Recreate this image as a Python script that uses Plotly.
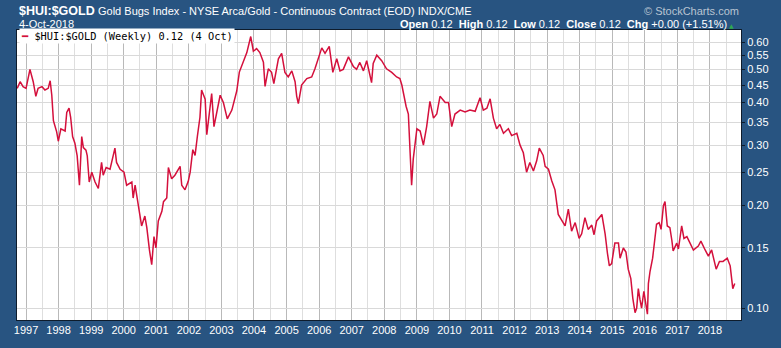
import plotly.graph_objects as go
import pandas as pd
import numpy as np

# Decimal-year time stamps (weekly closes sampled) and $HUI:$GOLD ratio values
years = [1996.73, 1996.82, 1996.91, 1997.00, 1997.12, 1997.22, 1997.30, 1997.37, 1997.49, 1997.58,
         1997.68, 1997.74, 1997.79, 1997.84, 1997.94, 1997.99, 1998.07, 1998.20, 1998.25, 1998.32,
         1998.37, 1998.43, 1998.50, 1998.57, 1998.64, 1998.71, 1998.76, 1998.84, 1998.88, 1998.94,
         1999.02, 1999.12, 1999.22, 1999.32, 1999.37, 1999.46, 1999.58, 1999.73, 1999.78, 1999.89,
         2000.01, 2000.09, 2000.25, 2000.29, 2000.35, 2000.45, 2000.55, 2000.65, 2000.71, 2000.79,
         2000.86, 2000.93, 2000.99, 2001.06, 2001.17, 2001.22, 2001.32, 2001.37, 2001.47, 2001.57,
         2001.73, 2001.78, 2001.88, 2001.98, 2002.04, 2002.12, 2002.19, 2002.26, 2002.34, 2002.39,
         2002.50, 2002.55, 2002.63, 2002.70, 2002.77, 2002.96, 2003.06, 2003.18, 2003.32, 2003.47,
         2003.55, 2003.67, 2003.78, 2003.90, 2003.98, 2004.08, 2004.18, 2004.29, 2004.34, 2004.44,
         2004.54, 2004.61, 2004.75, 2004.85, 2004.95, 2005.05, 2005.16, 2005.26, 2005.31, 2005.36,
         2005.46, 2005.62, 2005.77, 2005.87, 2005.97, 2006.08, 2006.18, 2006.31, 2006.42, 2006.54,
         2006.64, 2006.74, 2006.90, 2007.05, 2007.15, 2007.25, 2007.36, 2007.46, 2007.61, 2007.66,
         2007.77, 2007.92, 2008.07, 2008.23, 2008.38, 2008.48, 2008.54, 2008.61, 2008.67, 2008.74,
         2008.79, 2008.84, 2008.89, 2009.00, 2009.10, 2009.20, 2009.30, 2009.40, 2009.51, 2009.61,
         2009.71, 2009.87, 2009.97, 2010.07, 2010.17, 2010.33, 2010.48, 2010.63, 2010.79, 2010.94,
         2011.04, 2011.15, 2011.25, 2011.35, 2011.45, 2011.55, 2011.66, 2011.81, 2011.91, 2012.07,
         2012.17, 2012.27, 2012.37, 2012.47, 2012.58, 2012.68, 2012.76, 2012.88, 2012.94, 2013.04,
         2013.14, 2013.24, 2013.34, 2013.45, 2013.55, 2013.65, 2013.75, 2013.86, 2013.98, 2014.06,
         2014.16, 2014.26, 2014.37, 2014.44, 2014.52, 2014.68, 2014.78, 2014.85, 2014.91, 2014.98,
         2015.08, 2015.19, 2015.24, 2015.34, 2015.42, 2015.49, 2015.57, 2015.63, 2015.70, 2015.75,
         2015.80, 2015.85, 2015.90, 2015.97, 2016.04, 2016.08, 2016.11, 2016.16, 2016.24, 2016.31,
         2016.36, 2016.44, 2016.50, 2016.57, 2016.62, 2016.69, 2016.77, 2016.83, 2016.87, 2016.98,
         2017.03, 2017.13, 2017.20, 2017.29, 2017.39, 2017.49, 2017.64, 2017.72, 2017.85, 2017.95,
         2018.05, 2018.19, 2018.29, 2018.40, 2018.53, 2018.62, 2018.70, 2018.76]

ratio = [0.440, 0.460, 0.445, 0.440, 0.500, 0.460, 0.417, 0.440, 0.445, 0.435,
         0.440, 0.463, 0.420, 0.354, 0.328, 0.308, 0.335, 0.330, 0.374, 0.385,
         0.362, 0.318, 0.304, 0.279, 0.229, 0.318, 0.295, 0.290, 0.279, 0.234,
         0.250, 0.234, 0.224, 0.267, 0.245, 0.258, 0.255, 0.294, 0.267, 0.255,
         0.250, 0.229, 0.234, 0.210, 0.229, 0.200, 0.174, 0.186, 0.172, 0.148,
         0.134, 0.162, 0.150, 0.180, 0.192, 0.205, 0.210, 0.258, 0.239, 0.245,
         0.260, 0.229, 0.222, 0.235, 0.250, 0.291, 0.280, 0.318, 0.362, 0.435,
         0.409, 0.322, 0.370, 0.425, 0.340, 0.420, 0.400, 0.358, 0.380, 0.432,
         0.491, 0.524, 0.560, 0.624, 0.565, 0.575, 0.560, 0.525, 0.446, 0.502,
         0.490, 0.454, 0.537, 0.557, 0.490, 0.475, 0.495, 0.460, 0.417, 0.397,
         0.450, 0.470, 0.475, 0.502, 0.537, 0.578, 0.557, 0.584, 0.490, 0.537,
         0.495, 0.500, 0.544, 0.510, 0.500, 0.524, 0.495, 0.530, 0.457, 0.520,
         0.550, 0.530, 0.502, 0.490, 0.475, 0.470, 0.450, 0.413, 0.390, 0.370,
         0.304, 0.229, 0.273, 0.335, 0.330, 0.300, 0.340, 0.403, 0.360, 0.370,
         0.417, 0.400, 0.400, 0.340, 0.370, 0.380, 0.375, 0.380, 0.377, 0.413,
         0.380, 0.385, 0.410, 0.360, 0.335, 0.345, 0.325, 0.335, 0.320, 0.325,
         0.300, 0.285, 0.250, 0.267, 0.252, 0.270, 0.294, 0.280, 0.260, 0.255,
         0.236, 0.222, 0.188, 0.180, 0.174, 0.195, 0.168, 0.178, 0.160, 0.165,
         0.184, 0.170, 0.175, 0.164, 0.180, 0.188, 0.165, 0.145, 0.133, 0.135,
         0.155, 0.155, 0.140, 0.150, 0.146, 0.130, 0.122, 0.107, 0.097, 0.100,
         0.114, 0.106, 0.100, 0.112, 0.102, 0.096, 0.118, 0.128, 0.140, 0.158,
         0.176, 0.178, 0.170, 0.199, 0.205, 0.174, 0.172, 0.158, 0.147, 0.155,
         0.149, 0.174, 0.160, 0.162, 0.155, 0.148, 0.152, 0.157, 0.148, 0.142,
         0.148, 0.130, 0.137, 0.137, 0.140, 0.133, 0.114, 0.118]

year_labels = list(range(1997, 2019))
y_ticks = [0.10, 0.15, 0.20, 0.25, 0.30, 0.35, 0.40, 0.45, 0.50, 0.55, 0.60]

def to_date(fy):
    y = int(np.floor(fy))
    return pd.Timestamp(year=y, month=1, day=1) + pd.Timedelta(days=(fy - y) * 365.25)

dates = [to_date(v) for v in years]

BG = "#285481"
RED = "#d4103c"
FONT = "Liberation Sans, Arial, sans-serif"

fig = go.Figure()
fig.add_trace(go.Scatter(x=dates, y=ratio, mode="lines",
                         line=dict(color=RED, width=1.5), hoverinfo="skip",
                         showlegend=False))

fig.update_layout(
    width=781, height=348,
    paper_bgcolor=BG, plot_bgcolor="white",
    margin=dict(l=17, r=40, t=30, b=19),
    font=dict(family=FONT, color="white", size=11),
    xaxis=dict(
        type="date",
        range=[to_date(1996.724), to_date(2018.952)],
        tickmode="array",
        tickvals=[pd.Timestamp(year=y, month=1, day=1) for y in year_labels],
        ticktext=[str(y) for y in year_labels],
        showgrid=True, gridcolor="#b9b9b9", gridwidth=1,
        minor=dict(tickmode="array",
                   tickvals=[pd.Timestamp(year=y, month=7, day=1) for y in range(1996, 2019)],
                   showgrid=True, gridcolor="#dedede", gridwidth=1),
        ticks="", showline=True, linecolor="#0e1c2c", linewidth=1, mirror=True,
        tickfont=dict(size=11, color="white", family=FONT),
        zeroline=False, fixedrange=True,
    ),
    yaxis=dict(
        type="log", side="right",
        range=[np.log10(0.0923), np.log10(0.652)],
        tickmode="array",
        tickvals=y_ticks,
        ticktext=[f"{v:.2f}" for v in y_ticks],
        showgrid=True, gridcolor="#d9d9d9", gridwidth=1,
        ticks="outside", ticklen=3, tickcolor="#0e1c2c",
        showline=True, linecolor="#0e1c2c", linewidth=1, mirror=True,
        tickfont=dict(size=11, color="white", family=FONT),
        zeroline=False, fixedrange=True,
    ),
)

ann = []
ann.append(dict(xref="paper", yref="paper", x=0, y=1.0, xshift=0, yshift=19,
                xanchor="left", yanchor="middle", showarrow=False,
                text="<b>$HUI:$GOLD</b>", font=dict(size=12.5, color="white", family=FONT)))
ann.append(dict(xref="paper", yref="paper", x=0, y=1.0, xshift=79, yshift=19,
                xanchor="left", yanchor="middle", showarrow=False,
                text="Gold Bugs Index - NYSE Arca/Gold - Continuous Contract (EOD) INDX/CME",
                font=dict(size=11, color="white", family=FONT)))
ann.append(dict(xref="paper", yref="paper", x=1.0, y=1.0, xshift=0, yshift=19,
                xanchor="right", yanchor="middle", showarrow=False,
                text="© StockCharts.com", font=dict(size=11, color="#b9c4d2", family=FONT)))
ann.append(dict(xref="paper", yref="paper", x=0, y=1.0, xshift=0, yshift=6,
                xanchor="left", yanchor="middle", showarrow=False,
                text="4-Oct-2018", font=dict(size=11, color="white", family=FONT)))
ann.append(dict(xref="paper", yref="paper", x=1.0, y=1.0, xshift=-12, yshift=6,
                xanchor="right", yanchor="middle", showarrow=False,
                text="<b>Open</b> 0.12  <b>High</b> 0.12  <b>Low</b> 0.12  <b>Close</b> 0.12  <b>Chg</b> +0.00 (+1.51%)",
                font=dict(size=11, color="white", family=FONT)))
ann.append(dict(xref="paper", yref="paper", x=1.0, y=1.0, xshift=-5, yshift=5,
                xanchor="right", yanchor="middle", showarrow=False,
                text="▲", font=dict(size=6, color="#2fa84f", family="DejaVu Sans")))
ann.append(dict(xref="paper", yref="paper", x=0, y=1.0, xshift=2, yshift=-6,
                xanchor="left", yanchor="middle", showarrow=False,
                bgcolor="white", borderpad=1,
                text="<span style='color:%s'><b>━</b></span> $HUI:$GOLD (Weekly) 0.12 (4 Oct)" % RED,
                font=dict(size=10.3, color="black", family="DejaVu Sans Mono")))
fig.update_layout(annotations=ann)

fig.write_html("out.html")
